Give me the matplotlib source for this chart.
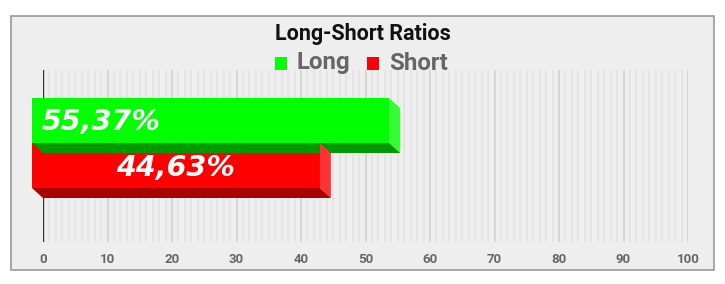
import matplotlib
matplotlib.use("Agg")
import matplotlib.pyplot as plt
from matplotlib.patches import Rectangle, Polygon
from matplotlib.transforms import ScaledTranslation
import numpy as np

# ---- data ----
categories = ["Long", "Short"]
values = [55.37, 44.63]
labels = ["55,37%", "44,63%"]
front_colors = ["#00ff00", "#ff0000"]
side_colors = ["#33ff33", "#ff3333"]
bottom_colors = ["#009900", "#aa0000"]
xticks = [0, 10, 20, 30, 40, 50, 60, 70, 80, 90, 100]

W, H = 725, 284
DPI = 100
fig = plt.figure(figsize=(W / DPI, H / DPI), dpi=DPI)
fig.patch.set_facecolor("white")

# outer box
fig.add_artist(Rectangle((11 / W, 1 - 270 / H), (714 - 11) / W, (270 - 16) / H,
                         transform=fig.transFigure, facecolor="#eeeeee",
                         edgecolor="#999999", linewidth=1.2, zorder=0))

# axes: x 43..688 px, y 70..242 px
ax = fig.add_axes([43 / W, (H - 242) / H, 645 / W, 172 / H])
ax.set_facecolor("none")
ax.set_xlim(0, 100)
ypos = [1, 0]
bh = 1.0
ppu = 45.0
ax.set_ylim(-0.5 - 44 / ppu, 1.5 + 38 / ppu)

# grid
for v in range(0, 101):
    if v % 10 == 0:
        ax.axvline(v, color="#d2d2d2", lw=1.2, zorder=1)
    else:
        ax.axvline(v, color="#e3e3e3", lw=1.3, zorder=1)
ax.axvline(0, color="#333333", lw=1.0, zorder=2)

for s in ax.spines.values():
    s.set_visible(False)
ax.set_yticks([])
ax.set_xticks(xticks)
ax.set_xticklabels([str(t) for t in xticks], fontsize=9.5, color="#666666",
                   fontfamily="Roboto", fontweight="bold")
ax.tick_params(axis="x", length=0, pad=8)

dx, dy = -11, 10  # front face offset in px
off = ScaledTranslation(dx / DPI, dy / DPI, fig.dpi_scale_trans)
front_tr = ax.transData + off

for i, (cat, v) in enumerate(zip(categories, values)):
    y0 = ypos[i] - bh / 2
    y1 = ypos[i] + bh / 2

    def D(x, y):
        return ax.transData.transform((x, y))
    br_top = D(v, y1)
    br_bot = D(v, y0)
    bl_bot = D(0, y0)
    f = lambda p: (p[0] + dx, p[1] + dy)
    right = Polygon([f(br_top), br_top, br_bot, f(br_bot)], closed=True,
                    transform=None, facecolor=side_colors[i], edgecolor="none", zorder=3 + i * 3)
    bottom = Polygon([f(bl_bot), f(br_bot), br_bot, bl_bot], closed=True,
                     transform=None, facecolor=bottom_colors[i], edgecolor="none", zorder=3 + i * 3)
    fig.add_artist(right)
    fig.add_artist(bottom)
    ax.barh(ypos[i], v, height=bh, left=0, color=front_colors[i], transform=front_tr,
            zorder=4 + i * 3, clip_on=False)

# labels
lab_tr0 = ax.transData + ScaledTranslation(-1 / DPI, (dy - 2) / DPI, fig.dpi_scale_trans)
lab_tr1 = ax.transData + ScaledTranslation(dx / DPI, (dy - 2) / DPI, fig.dpi_scale_trans)
ax.text(0, ypos[0], labels[0], transform=lab_tr0,
        color="white", fontsize=20.5, fontweight="bold", fontstyle="italic",
        fontfamily="DejaVu Sans", ha="left", va="center", zorder=10, clip_on=False)
ax.text(values[1] / 2, ypos[1], labels[1], transform=lab_tr1,
        color="white", fontsize=20.5, fontweight="bold", fontstyle="italic",
        fontfamily="DejaVu Sans", ha="center", va="center", zorder=10, clip_on=False)

# title
fig.text(363 / W, 1 - 34 / H, "Long-Short Ratios", ha="center", va="center",
         fontsize=15.5, fontweight="bold", fontfamily="Roboto", color="#111111")

# legend
leg_y = 1 - 63 / H
for name, col, sx, tx in [(categories[0], front_colors[0], 275, 297),
                          (categories[1], front_colors[1], 367, 389)]:
    fig.add_artist(Rectangle((sx / W, 1 - 70 / H), 12 / W, 13 / H, transform=fig.transFigure,
                             facecolor=col, edgecolor="none"))
    fig.text(tx / W, leg_y, name, ha="left", va="center", fontsize=17.3,
             fontweight="bold", fontfamily="Roboto", color="#666666")

fig.savefig("out.png", dpi=DPI)
